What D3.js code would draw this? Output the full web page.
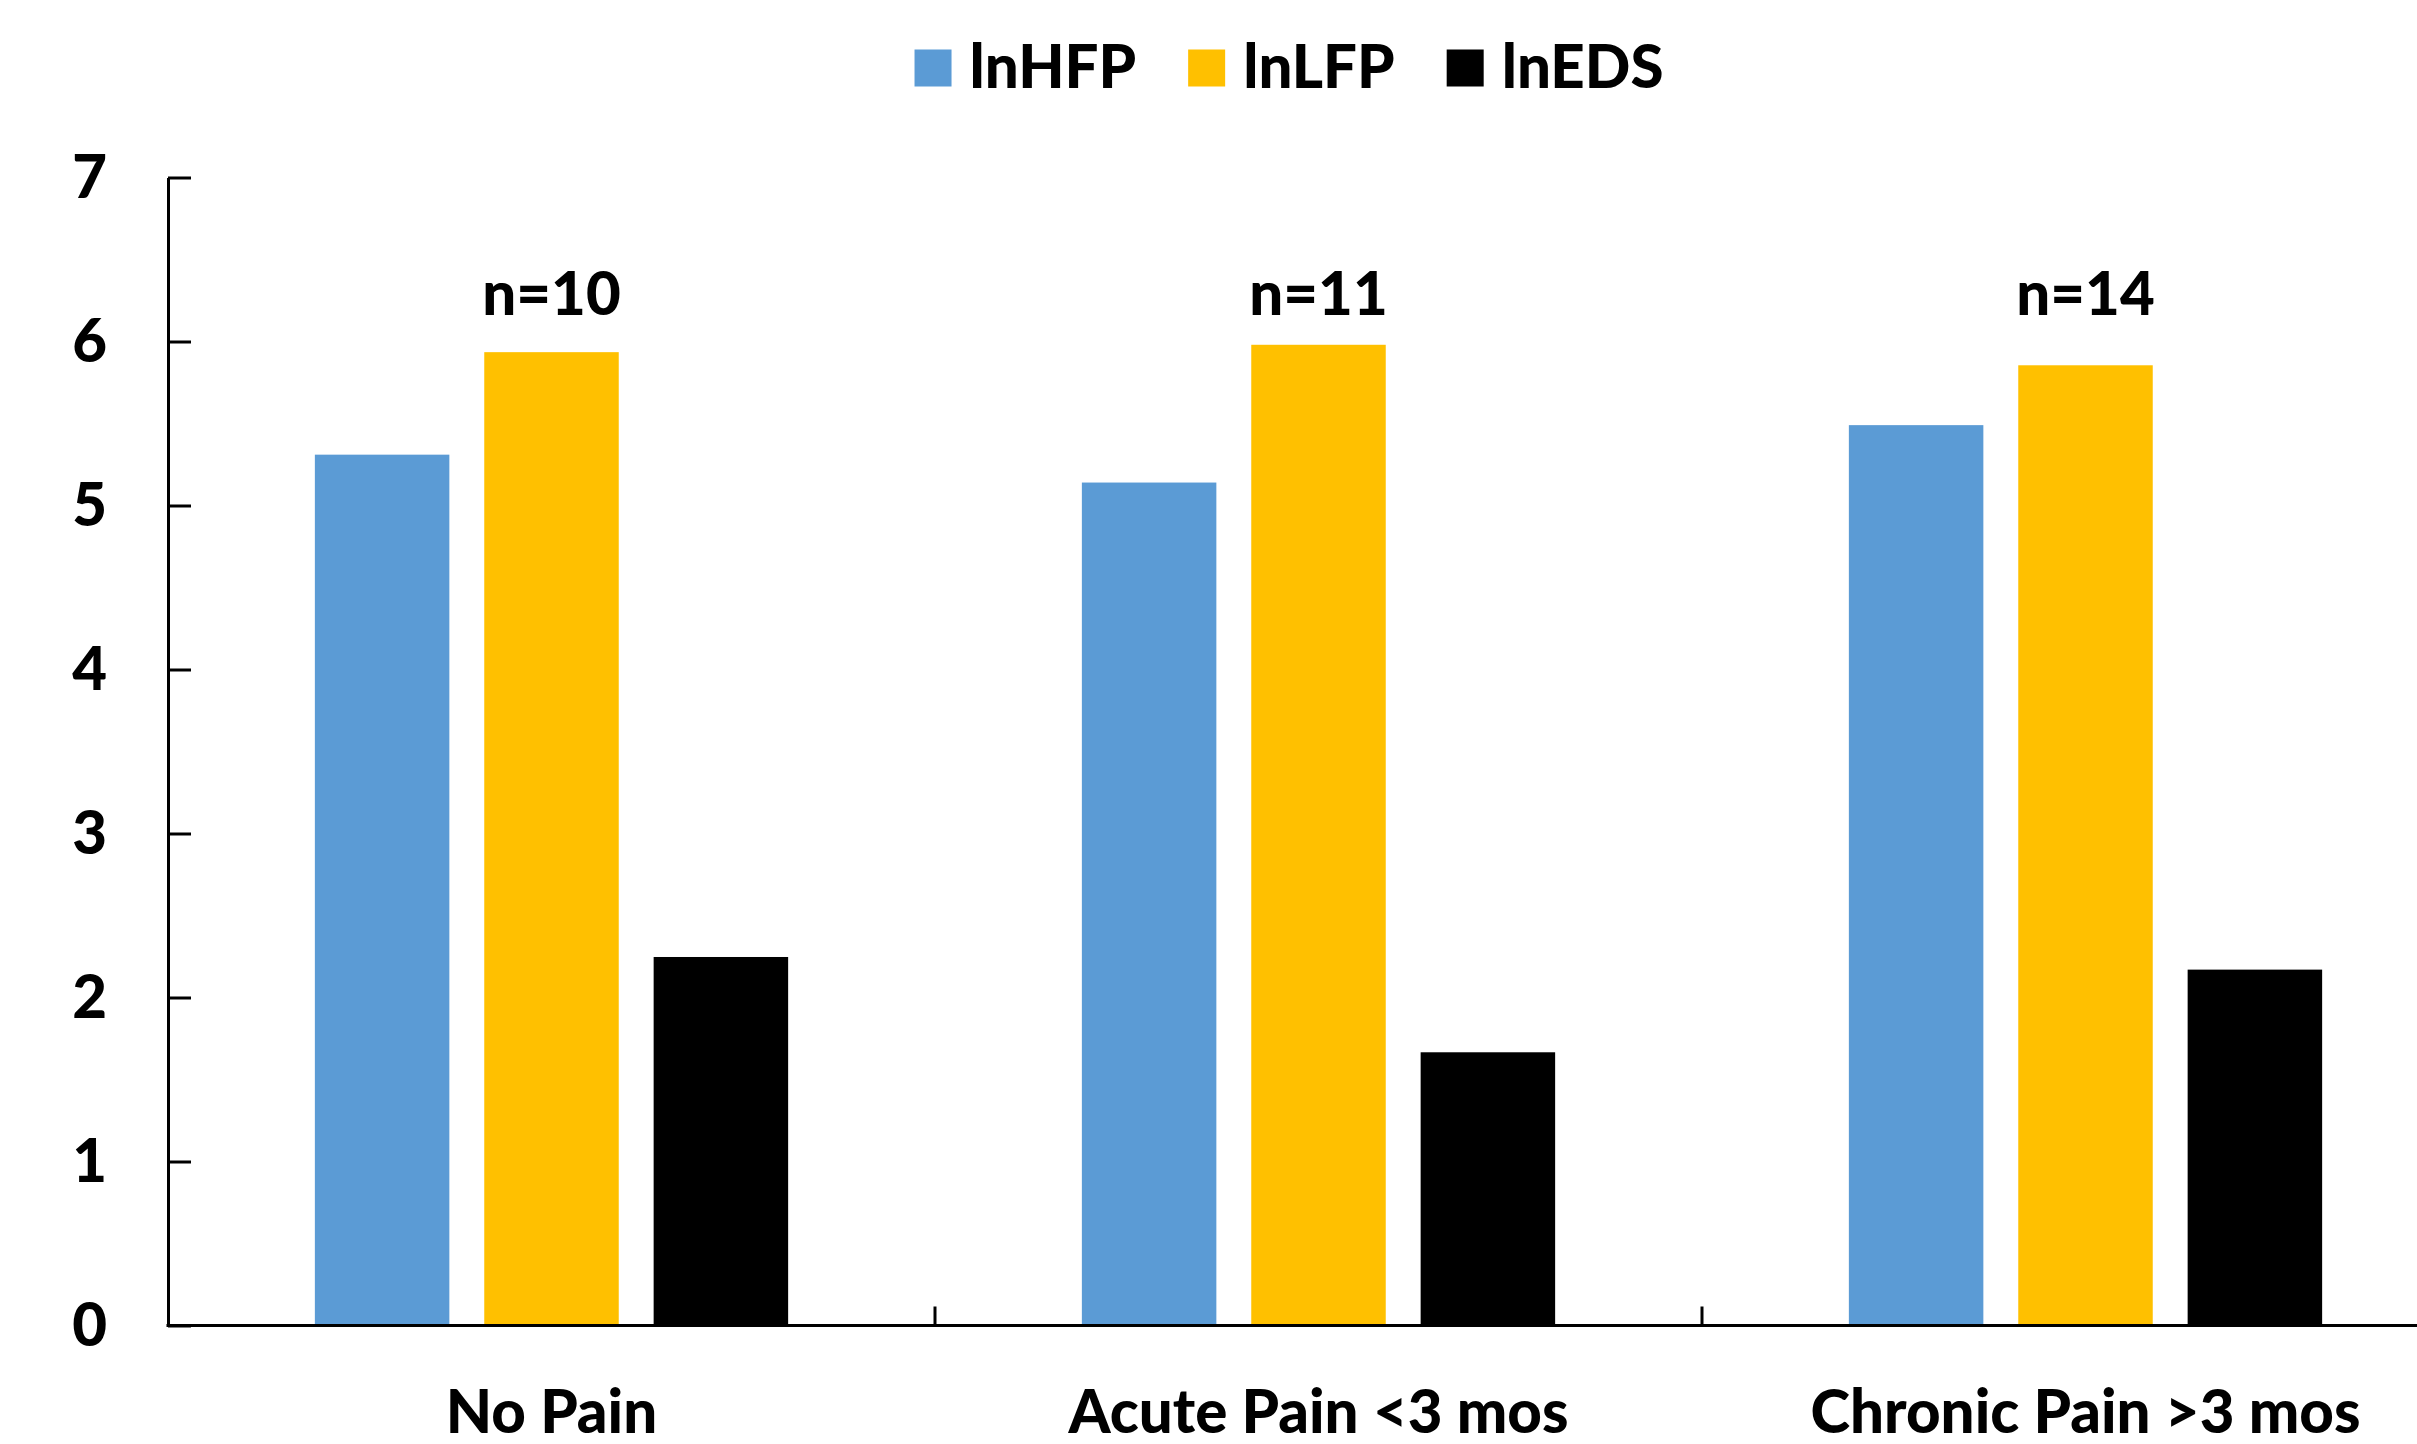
<!DOCTYPE html>
<html>
<head>
<meta charset="utf-8">
<script src="https://cdn.jsdelivr.net/npm/d3@7"></script>
<style>
  html, body { margin: 0; padding: 0; background: #ffffff; }
  svg { display: block; }
  text { font-family: Lato, "Open Sans", sans-serif; font-weight: 900; fill: #000; }
</style>
</head>
<body>
<svg id="chart" width="2417" height="1444"></svg>
<script>
// Pain groups along the x axis
const categories = ["No Pain", "Acute Pain <3 mos", "Chronic Pain >3 mos"];
// Series (log-transformed HRV measures)
const seriesNames = ["lnHFP", "lnLFP", "lnEDS"];
const lnHFP = [5.31, 5.14, 5.49];
const lnLFP = [5.935, 5.98, 5.855];
const lnEDS = [2.247, 1.666, 2.17];
// Group sample sizes shown above each cluster
const sampleSizes = ["n=10", "n=11", "n=14"];
// Y axis ticks
const yTicks = [0, 1, 2, 3, 4, 5, 6, 7];
const seriesColors = ["#5B9BD5", "#FFC000", "#000000"];

const seriesValues = { lnHFP, lnLFP, lnEDS };
const rows = categories.map((c, i) => ({
  category: c,
  values: seriesNames.map(s => ({ key: s, value: seriesValues[s][i] }))
}));

const svg = d3.select("#chart");
const plot = { left: 168, right: 2469, top: 177.5, bottom: 1325.5 };
const fontSize = 60;

const x0 = d3.scaleBand().domain(categories).range([plot.left, plot.right]).padding(0);
const x1 = d3.scaleBand().domain(seriesNames).range([0, x0.bandwidth()])
  .paddingInner(0.206).paddingOuter(0.867);
const y = d3.scaleLinear().domain([0, 7]).range([plot.bottom, plot.top]);
const color = d3.scaleOrdinal().domain(seriesNames).range(seriesColors);

// Bars
const groups = svg.append("g").selectAll("g")
  .data(rows).join("g")
  .attr("transform", d => `translate(${x0(d.category)},0)`);
groups.selectAll("rect")
  .data(d => d.values).join("rect")
  .attr("x", d => x1(d.key))
  .attr("width", x1.bandwidth())
  .attr("y", d => y(d.value))
  .attr("height", d => y(0) - y(d.value))
  .attr("fill", d => color(d.key));

// Y axis: ticks point into the plot
const yAxis = d3.axisLeft(y).tickValues(yTicks).tickFormat(d3.format("d"))
  .tickSizeInner(-23).tickSizeOuter(0).tickPadding(61);
const yg = svg.append("g").attr("transform", `translate(${plot.left},0)`).call(yAxis);
yg.select(".domain").attr("stroke", "#000").attr("stroke-width", 3);
yg.selectAll(".tick line").attr("stroke", "#000").attr("stroke-width", 3);
yg.selectAll(".tick text")
  .attr("font-size", fontSize).attr("font-family", null)
  .attr("dy", "0.34em");

// X axis: baseline, boundary ticks and category labels
const xg = svg.append("g");
xg.append("line")
  .attr("x1", plot.left - 1.5).attr("x2", plot.right)
  .attr("y1", y(0)).attr("y2", y(0))
  .attr("stroke", "#000").attr("stroke-width", 3);
xg.selectAll("line.tick")
  .data(categories.slice(1).concat(["__end"]))
  .join("line").attr("class", "tick")
  .attr("x1", d => d === "__end" ? plot.right : x0(d))
  .attr("x2", d => d === "__end" ? plot.right : x0(d))
  .attr("y1", y(0)).attr("y2", y(0) - 19)
  .attr("stroke", "#000").attr("stroke-width", 3);
xg.selectAll("text")
  .data(categories).join("text")
  .attr("x", d => x0(d) + x0.bandwidth() / 2)
  .attr("y", 1432.5)
  .attr("text-anchor", "middle")
  .attr("font-size", fontSize)
  .text(d => d);

// Sample size labels above each cluster
svg.append("g").selectAll("text")
  .data(rows).join("text")
  .attr("x", d => x0(d.category) + x1("lnLFP") + x1.bandwidth() / 2)
  .attr("y", y(7) + 137)
  .attr("text-anchor", "middle")
  .attr("font-size", fontSize)
  .text((d, i) => sampleSizes[i]);

// Legend, centred above the plot
const legend = svg.append("g");
const sw = 37, gapText = 18, gapItem = 52;
const items = legend.selectAll("g").data(seriesNames).join("g");
items.append("rect")
  .attr("width", sw).attr("height", sw)
  .attr("y", 49.5)
  .attr("fill", d => color(d));
items.append("text")
  .attr("x", sw + gapText)
  .attr("y", 88.3)
  .attr("font-size", fontSize)
  .text(d => d);
const widths = [];
items.each(function () {
  widths.push(sw + gapText + this.querySelector("text").getComputedTextLength());
});
const totalW = d3.sum(widths) + gapItem * (widths.length - 1);
let cursor = 1289 - totalW / 2;
items.attr("transform", (d, i) => {
  const tx = cursor;
  cursor += widths[i] + gapItem;
  return `translate(${tx},0)`;
});
</script>
</body>
</html>
